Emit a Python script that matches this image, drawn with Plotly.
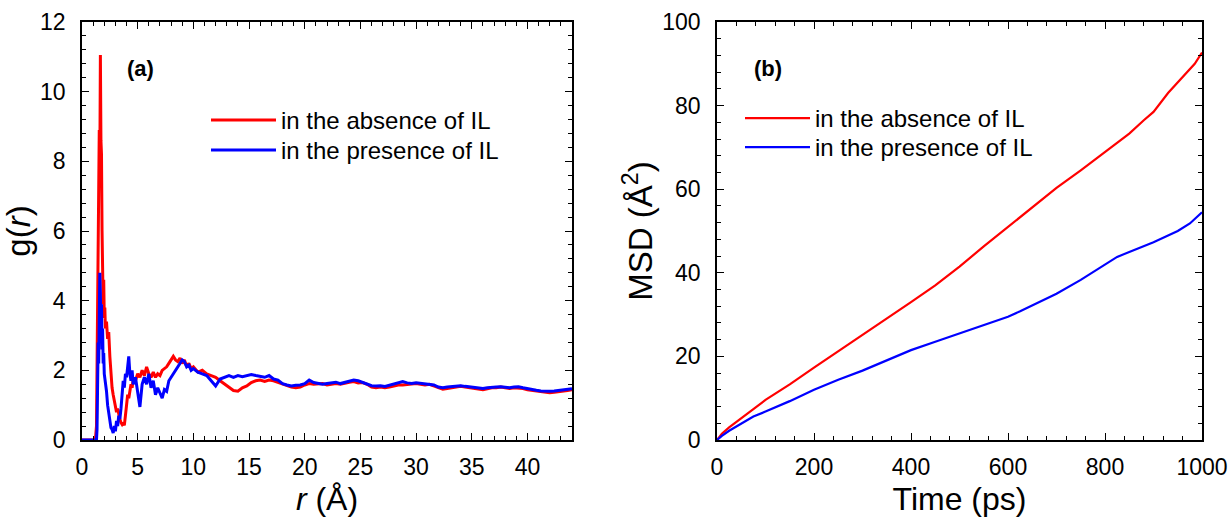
import plotly.graph_objects as go

# ---- panel (a): radial distribution function g(r) ----
r_absence = [0, 1.2, 1.3, 1.4, 1.5, 1.55, 1.6, 1.65, 1.7, 1.75, 1.8, 1.85, 1.9, 1.95, 2.0, 2.05, 2.1, 2.2, 2.3, 2.4,
             2.5, 2.6, 2.7, 2.8, 2.9, 3.0, 3.1, 3.2, 3.3, 3.4, 3.5, 3.6, 3.7, 3.8, 3.9, 4.0, 4.1, 4.2, 4.3, 4.4,
             4.5, 4.6, 4.8, 5.0, 5.2, 5.4, 5.6, 5.8, 6.0, 6.2, 6.4, 6.6, 6.8, 7.0, 7.2, 7.4, 7.6, 7.8, 8.0, 8.2,
             8.4, 8.6, 8.8, 9.0, 9.2, 9.4, 9.6, 9.8, 10.0, 10.4, 10.8, 11.2, 11.6, 12.0, 12.4, 12.8, 13.2, 13.6,
             14.0, 14.4, 14.8, 15.2, 15.6, 16.0, 16.4, 16.8, 17.2, 17.6, 18.0, 18.4, 18.8, 19.2, 19.6, 20.0,
             20.4, 20.8, 21.2, 21.6, 22.0, 22.4, 22.8, 23.2, 23.6, 24.0, 24.4, 24.8, 25.2, 25.6, 26.0, 26.4,
             26.8, 27.2, 27.6, 28.0, 28.4, 28.8, 29.2, 29.6, 30.0, 30.4, 30.8, 31.2, 31.6, 32.0, 32.4, 32.8,
             33.2, 33.6, 34.0, 34.4, 34.8, 35.2, 35.6, 36.0, 36.4, 36.8, 37.2, 37.6, 38.0, 38.4, 38.8, 39.2,
             39.6, 40.0, 40.4, 40.8, 41.2, 41.6, 42.0, 42.4, 42.8, 43.2, 43.6, 44.0]
g_absence = [0, 0, 0.4, 3.8, 7.2, 8.9, 7.8, 11.05, 8.6, 8.2, 6.0, 4.4, 3.9, 4.6, 3.5, 3.8, 3.2, 3.4, 2.9, 3.1,
             2.4, 1.8, 1.5, 1.3, 1.1, 1.0, 0.8, 0.9, 0.7, 0.6, 0.5, 0.45, 0.5, 0.42, 0.7, 1.1, 1.3, 1.2, 1.5, 1.6,
             1.5, 1.75, 1.7, 1.9, 1.8, 2.0, 1.85, 2.1, 1.9, 1.8, 1.95, 1.8, 1.9, 1.85, 2.0, 2.05, 2.1, 2.2, 2.3, 2.4,
             2.3, 2.25, 2.35, 2.2, 2.3, 2.1, 2.2, 2.05, 2.1, 1.95, 2.0, 1.9, 1.85, 1.8, 1.7, 1.6, 1.5, 1.42,
             1.4, 1.5, 1.55, 1.65, 1.7, 1.72, 1.68, 1.72, 1.7, 1.65, 1.6, 1.55, 1.52, 1.5, 1.52, 1.58,
             1.62, 1.6, 1.6, 1.62, 1.58, 1.6, 1.62, 1.6, 1.64, 1.66, 1.68, 1.64, 1.65, 1.6, 1.52, 1.5,
             1.52, 1.5, 1.52, 1.55, 1.58, 1.58, 1.6, 1.6, 1.62, 1.6, 1.58, 1.6, 1.55, 1.5, 1.46, 1.48,
             1.5, 1.52, 1.54, 1.52, 1.5, 1.48, 1.44, 1.44, 1.47, 1.5, 1.5, 1.52, 1.5, 1.48, 1.5, 1.5,
             1.48, 1.44, 1.42, 1.4, 1.38, 1.36, 1.36, 1.37, 1.38, 1.4, 1.42, 1.44]

r_presence = [0, 1.3, 1.35, 1.4, 1.45, 1.5, 1.55, 1.6, 1.65, 1.7, 1.75, 1.8, 1.85, 1.9, 1.95, 2.0, 2.1, 2.2, 2.3, 2.4,
              2.5, 2.6, 2.7, 2.8, 2.9, 3.0, 3.1, 3.2, 3.3, 3.4, 3.5, 3.6, 3.7, 3.8, 3.9, 4.0, 4.1, 4.2, 4.3, 4.4,
              4.5, 4.6, 4.8, 5.0, 5.2, 5.4, 5.6, 5.8, 6.0, 6.2, 6.4, 6.6, 6.8, 7.0, 7.2, 7.4, 7.6, 7.8, 8.0, 8.2,
              8.4, 8.6, 8.8, 9.0, 9.2, 9.4, 9.6, 9.8, 10.0, 10.4, 10.8, 11.2, 11.6, 12.0, 12.4, 12.8, 13.2, 13.6,
              14.0, 14.4, 14.8, 15.2, 15.6, 16.0, 16.4, 16.8, 17.2, 17.6, 18.0, 18.4, 18.8, 19.2, 19.6, 20.0,
              20.4, 20.8, 21.2, 21.6, 22.0, 22.4, 22.8, 23.2, 23.6, 24.0, 24.4, 24.8, 25.2, 25.6, 26.0, 26.4,
              26.8, 27.2, 27.6, 28.0, 28.4, 28.8, 29.2, 29.6, 30.0, 30.4, 30.8, 31.2, 31.6, 32.0, 32.4, 32.8,
              33.2, 33.6, 34.0, 34.4, 34.8, 35.2, 35.6, 36.0, 36.4, 36.8, 37.2, 37.6, 38.0, 38.4, 38.8, 39.2,
              39.6, 40.0, 40.4, 40.8, 41.2, 41.6, 42.0, 42.4, 42.8, 43.2, 43.6, 44.0]
g_presence = [0, 0, 0.3, 1.5, 2.8, 2.2, 3.5, 4.8, 4.2, 3.0, 3.9, 2.6, 3.2, 2.2, 2.5, 1.9, 1.7, 1.4, 1.0, 0.8,
              0.6, 0.35, 0.3, 0.2, 0.4, 0.25, 0.55, 0.4, 0.7, 0.6, 0.9, 1.4, 1.7, 1.5, 1.9, 1.8, 2.2, 2.4, 1.9, 1.7,
              2.0, 1.6, 1.8, 1.3, 0.95, 1.6, 1.8, 1.6, 1.9, 1.5, 1.7, 1.3, 1.5, 1.35, 1.2, 1.45, 1.4, 1.7, 1.8, 1.9,
              2.0, 2.1, 2.2, 2.3, 2.25, 2.1, 2.15, 2.0, 2.05, 1.95, 1.9, 1.85, 1.7, 1.55, 1.75, 1.8, 1.85, 1.8,
              1.85, 1.82, 1.85, 1.88, 1.85, 1.82, 1.8, 1.85, 1.75, 1.72, 1.62, 1.58, 1.55, 1.57, 1.58, 1.62,
              1.72, 1.65, 1.62, 1.6, 1.62, 1.65, 1.66, 1.62, 1.66, 1.7, 1.72, 1.7, 1.66, 1.62, 1.56, 1.55,
              1.56, 1.54, 1.58, 1.62, 1.66, 1.68, 1.64, 1.62, 1.64, 1.62, 1.6, 1.6, 1.58, 1.52, 1.5, 1.52,
              1.54, 1.55, 1.56, 1.54, 1.52, 1.5, 1.48, 1.48, 1.5, 1.52, 1.52, 1.53, 1.52, 1.5, 1.52, 1.53,
              1.5, 1.47, 1.45, 1.43, 1.41, 1.4, 1.4, 1.41, 1.43, 1.45, 1.46, 1.47]

# ---- panel (b): mean square displacement ----
t_absence = [0, 10, 25, 50, 75, 100, 150, 200, 250, 300, 350, 400, 450, 500, 550, 600, 650, 700, 750, 800,
             850, 880, 900, 930, 950, 970, 985, 1000]
msd_absence = [0, 1.5, 3.0, 5.3, 7.4, 9.6, 13.3, 17.3, 21.2, 25.0, 29.0, 33.0, 37.0, 41.5, 46.3, 51.0, 55.5,
               60.3, 64.5, 69.0, 73.3, 76.5, 78.5, 83.0, 85.5, 88.0, 90.0, 92.7]
t_presence = [0, 10, 25, 50, 75, 100, 150, 200, 250, 300, 350, 400, 450, 500, 550, 600, 625, 650, 700, 750,
              800, 825, 850, 900, 950, 975, 1000]
msd_presence = [0, 1.0, 2.2, 4.0, 5.6, 6.8, 9.3, 12.0, 14.4, 16.6, 19.0, 21.5, 23.5, 25.5, 27.5, 29.5, 30.8,
                32.2, 35.0, 38.3, 42.0, 43.8, 45.0, 47.3, 50.0, 51.8, 54.5]

label_absence = "in the absence of IL"
label_presence = "in the presence of IL"
RED = "#ff0000"
BLUE = "#0000ff"
FONT = "Arial, Liberation Sans, sans-serif"

W, H = 1231, 517
ML, MR, MT, MB = 82, 29, 22, 77
PW = W - ML - MR
PH = H - MT - MB


def dx(px):
    """figure pixel x -> paper (plot-area) fraction"""
    return (px - ML) / PW


def dy(py):
    """figure pixel y (from top) -> paper (plot-area) fraction"""
    return 1 - (py - MT) / PH


fig = go.Figure()
fig.add_trace(go.Scatter(x=r_absence, y=g_absence, mode="lines", name=label_absence, showlegend=True,
                         line=dict(color=RED, width=3), xaxis="x", yaxis="y", legend="legend"))
fig.add_trace(go.Scatter(x=r_presence, y=g_presence, mode="lines", name=label_presence, showlegend=True,
                         line=dict(color=BLUE, width=3), xaxis="x", yaxis="y", legend="legend3"))
fig.add_trace(go.Scatter(x=t_absence, y=msd_absence, mode="lines", name=label_absence, showlegend=True,
                         line=dict(color=RED, width=2.2), xaxis="x2", yaxis="y2", legend="legend2"))
fig.add_trace(go.Scatter(x=t_presence, y=msd_presence, mode="lines", name=label_presence, showlegend=True,
                         line=dict(color=BLUE, width=2.2), xaxis="x2", yaxis="y2", legend="legend4"))

common = dict(showline=True, linecolor="black", linewidth=1.5, mirror="ticks", ticks="inside",
              ticklen=7, tickwidth=1.3, tickcolor="black", showgrid=False, zeroline=False,
              automargin=False,
              tickfont=dict(family=FONT, size=23, color="black"))
minor_style = dict(ticks="inside", ticklen=4, tickcolor="black", tickwidth=1.2)
xtitle_font = dict(family=FONT, size=32, color="black")
ytitle_font = dict(family=FONT, size=33, color="black")


def leg(px, py):
    return dict(x=dx(px), y=dy(py), xanchor="left", yanchor="top", bgcolor="rgba(0,0,0,0)",
                font=dict(family=FONT, size=24, color="black"), itemwidth=65, visible=True)


fig.update_layout(
    width=W, height=H, margin=dict(l=ML, r=MR, t=MT, b=MB, autoexpand=False),
    paper_bgcolor="white", plot_bgcolor="white", showlegend=True,
    font=dict(family=FONT, color="black"),
    xaxis=dict(domain=[0, dx(572)], range=[0, 44], dtick=5, anchor="y", ticklabelstandoff=6,
               minor=dict(dtick=1, **minor_style),
               title=dict(text="<i>r</i> (Å)", standoff=8, font=xtitle_font), **common),
    yaxis=dict(domain=[0, 1], range=[0, 12], dtick=2, anchor="x", ticklabelstandoff=10,
               minor=dict(dtick=0.4, **minor_style),
               title=dict(text="g(<i>r</i>)", standoff=0, font=ytitle_font), **common),
    xaxis2=dict(domain=[dx(717), 1], range=[0, 1000], dtick=200, anchor="y2", ticklabelstandoff=6,
                minor=dict(dtick=40, **minor_style),
                title=dict(text="Time (ps)", standoff=8, font=xtitle_font), **common),
    yaxis2=dict(domain=[0, 1], range=[0, 100], dtick=20, anchor="x2", ticklabelstandoff=10,
                minor=dict(dtick=4, **minor_style),
                title=dict(text="MSD (Å<sup>2</sup>)", standoff=0, font=ytitle_font), **common),
    legend=leg(206, 98),
    legend3=leg(206, 128),
    legend2=leg(740, 96),
    legend4=leg(740, 125),
    annotations=[
        dict(text="<b>(a)</b>", x=dx(125), y=dy(68), xref="paper", yref="paper", showarrow=False,
             xanchor="left", yanchor="middle", font=dict(family=FONT, size=22, color="black")),
        dict(text="<b>(b)</b>", x=dx(752), y=dy(68), xref="paper", yref="paper", showarrow=False,
             xanchor="left", yanchor="middle", font=dict(family=FONT, size=22, color="black")),
    ],
)

fig.write_html("out.html", config={"displayModeBar": False},
               post_script="document.body.style.margin='0px';document.body.style.overflow='hidden';")
